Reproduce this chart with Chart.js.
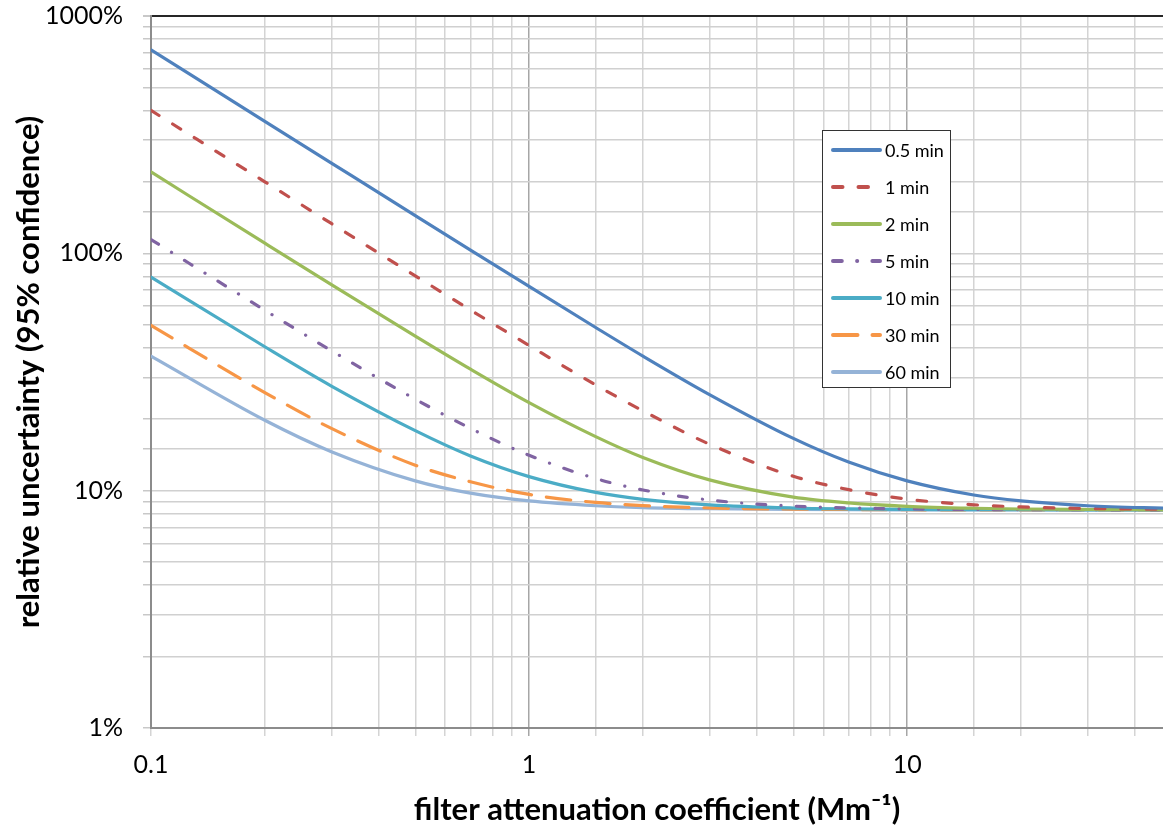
<!DOCTYPE html>
<html><head><meta charset="utf-8">
<script src="https://cdn.jsdelivr.net/npm/chart.js@4.4.0/dist/chart.umd.min.js"></script>
<style>html,body{margin:0;padding:0;background:#fff}#wrap{width:1163px;height:831px;position:relative}</style>
</head><body><div id="wrap"><canvas id="c"></canvas></div>
<script>
// filter attenuation coefficient (Mm^-1)
const xValues = [0.1,0.2,0.3,0.5,0.7,1,1.5,2,3,5,7,10,15,20,30,50];
const seriesLabels = ['0.5 min','1 min','2 min','5 min','10 min','30 min','60 min'];
// relative uncertainty (%)
const u05 = [720,360,240.1,144.2,103.2,72.5,48.7,36.9,25.4,16.6,13.2,11.0,9.59,9.05,8.64,8.42];
const u1  = [400,200.2,133.6,80.4,57.7,40.9,27.9,21.7,15.7,11.5,10.1,9.21,8.72,8.54,8.41,8.34];
const u2  = [220.2,110.3,73.8,44.8,32.5,23.5,16.9,13.8,11.1,9.39,8.88,8.59,8.43,8.37,8.33,8.31];
const u5  = [114.3,57.6,38.9,24.3,18.3,14.1,11.25,10.07,9.13,8.61,8.46,8.38,8.33,8.32,8.31,8.30];
const u10 = [79.4,40.4,27.6,17.9,14.0,11.46,9.83,9.19,8.71,8.45,8.38,8.34,8.32,8.31,8.30,8.30];
const u30 = [49.7,25.9,18.3,12.8,10.9,9.64,8.92,8.65,8.46,8.36,8.33,8.31,8.30,8.30,8.30,8.30];
const u60 = [36.9,19.8,14.6,11.0,9.76,9.05,8.64,8.49,8.39,8.33,8.31,8.30,8.30,8.30,8.30,8.30];
const yTickLabels = ['1%','10%','100%','1000%'];
const xTickLabels = ['0.1','1','10'];

const seriesValues = [u05,u1,u2,u5,u10,u30,u60];
const colors = ['#4F81BD','#C0504D','#9BBB59','#8064A2','#4BACC6','#F79646','#95B3D7'];
const dashes = [[],[9.5,16],[],[8.8,15.3,0.1,15.2],[],[24.5,15],[]];

const datasets = seriesLabels.map((lab,i)=>({
  label: lab,
  data: xValues.map((x,j)=>({x:x,y:seriesValues[i][j]})),
  borderColor: colors[i],
  backgroundColor: colors[i],
  borderWidth: 3.2,
  borderDash: dashes[i],
  borderCapStyle: 'round',
  borderJoinStyle: 'round',
  pointRadius: 0,
  cubicInterpolationMode: 'monotone',
  fill: false
}));

function decadeIndex(v, base){
  const l = Math.log10(v) - base;
  const r = Math.round(l);
  return Math.abs(l - r) < 1e-6 ? r : -1;
}

const boxLegend = {
  id: 'boxLegend',
  afterDraw(chart){
    const ctx = chart.ctx;
    const o = chart.options.plugins.boxLegend;
    ctx.save();
    ctx.fillStyle = '#fff';
    ctx.fillRect(o.x, o.y, o.w, o.h);
    ctx.strokeStyle = '#333';
    ctx.lineWidth = 1;
    ctx.strokeRect(o.x+0.5, o.y+0.5, o.w, o.h);
    chart.data.datasets.forEach((ds,i)=>{
      const yy = o.firstY + i*o.step;
      ctx.beginPath();
      ctx.setLineDash(ds.borderDash || []);
      ctx.lineCap = 'round';
      ctx.strokeStyle = ds.borderColor;
      ctx.lineWidth = 4;
      ctx.moveTo(o.lineX0, yy);
      ctx.lineTo(o.lineX1, yy);
      ctx.stroke();
      ctx.setLineDash([]);
      ctx.fillStyle = '#000';
      ctx.font = '18px Lato';
      ctx.textBaseline = 'middle';
      ctx.textAlign = 'left';
      ctx.fillText(ds.label, o.textX, yy+1);
    });
    ctx.restore();
  }
};

const gridColorX = c => (c.tick && decadeIndex(c.tick.value,-1) >= 0 && c.tick.value > 0.11) ? '#a6a6a6' : '#d4d4d4';
const gridColorY = c => (c.tick && c.tick.value === 1000) ? '#262626' : '#d0d0d0';

new Chart(document.getElementById('c'), {
  type: 'line',
  data: { datasets },
  options: {
    responsive: true,
    maintainAspectRatio: false,
    animation: false,
    layout: { padding: { top: 16, right: 0, left: 0, bottom: 0 } },
    plugins: {
      legend: { display: false },
      tooltip: { enabled: false },
      boxLegend: { x: 822, y: 130, w: 128, h: 257, lineX0: 833, lineX1: 880, textX: 885, firstY: 150, step: 37 }
    },
    scales: {
      x: {
        type: 'logarithmic',
        min: 0.1, max: 47.5,
        afterFit: s => { s.height = 103; s.paddingLeft = 0; s.paddingRight = 0; },
        afterBuildTicks: s => { s.ticks = s.ticks.filter(t => t.value <= 40.0001); },
        border: { color: '#8c8c8c', width: 2 },
        grid: { color: gridColorX, lineWidth: 1.5, tickLength: 8, tickColor: gridColorX },
        ticks: {
          autoSkip: false, maxRotation: 0, minRotation: 0, padding: 14, color: '#000',
          font: { family: 'Lato', size: 25 },
          callback: v => { const k = decadeIndex(v, -1); return k >= 0 && k < xTickLabels.length ? xTickLabels[k] : ''; }
        },
        title: {
          display: true, text: 'filter attenuation coefficient (Mm\u207B\u00B9)', color: '#000',
          font: { family: 'Lato', size: 31, weight: 'bold' }, padding: { top: 0, bottom: 2 }
        }
      },
      y: {
        type: 'logarithmic',
        min: 1, max: 1000,
        afterFit: s => { s.width = 151; s.paddingTop = 0; s.paddingBottom = 0; },
        border: { color: '#8c8c8c', width: 2 },
        grid: { color: gridColorY, lineWidth: c => (c.tick && c.tick.value === 1000) ? 2 : 1.5, tickLength: 8, tickColor: '#c8c8c8' },
        ticks: {
          autoSkip: false, padding: 20, color: '#000',
          font: { family: 'Lato', size: 25 },
          callback: v => { const k = decadeIndex(v, 0); return k >= 0 && k < yTickLabels.length ? yTickLabels[k] : ''; }
        },
        title: {
          display: true, text: 'relative uncertainty (95% confidence)', color: '#000',
          font: { family: 'Lato', size: 31, weight: 'bold' }, padding: { top: 10, bottom: 0 }
        }
      }
    }
  },
  plugins: [boxLegend]
});
</script></body></html>
